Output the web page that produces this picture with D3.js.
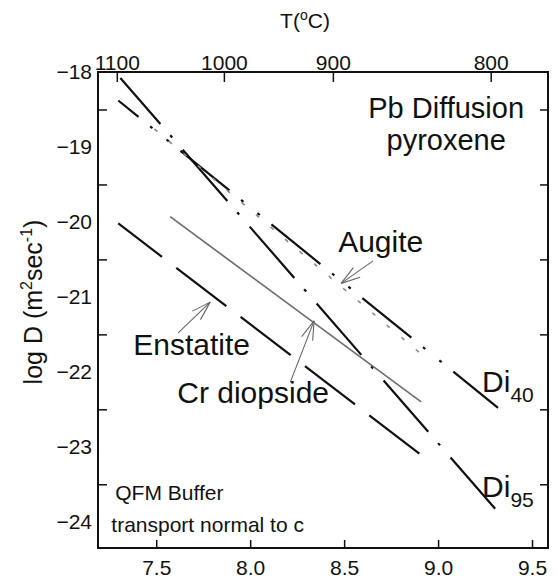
<!DOCTYPE html>
<html>
<head>
<meta charset="utf-8">
<script src="https://cdn.jsdelivr.net/npm/d3@7"></script>
<style>
  body { margin: 0; background: #fff; }
  svg { font-family: Arial, "Liberation Sans", Helvetica, sans-serif; }
  .axis path.domain { display: none; }
  .axis line { stroke: #111; stroke-width: 1.5; }
  .axis text { fill: #111; font-size: 21px; }
</style>
</head>
<body>
<div id="chart"></div>
<script>
// x = 10^4 / T(K), y = log D
const xTicks = [7.5, 8.0, 8.5, 9.0, 9.5];
const yLabels = [-18, -19, -20, -21, -22, -23, -24];
const yTicks = [-18.5, -19.5, -20.5, -21.5, -22.5, -23.5];
const tempLabels = [1100, 1000, 900, 800];
const tempTickX = [7.29, 7.86, 8.44, 9.28];

// line end points [10^4/T, log D]
const di95 = [[7.309, -18.08], [9.319, -23.87]];
const di40 = [[7.298, -18.38], [9.319, -22.48]];
const augite = [[7.49, -18.76], [8.904, -21.75]];
const crDiopside = [[7.574, -19.93], [8.910, -22.40]];
const enstatite = [[7.298, -20.02], [8.910, -23.11]];

// annotation labels and arrows (data units)
const labelNames = ['Augite', 'Enstatite', 'Cr diopside'];
const labelPos = [[8.468, -20.40], [7.378, -21.78], [7.612, -22.42]];
const arrowTails = [[8.654, -20.52], [7.617, -21.48], [8.213, -22.14]];
const arrowTips = [[8.484, -20.82], [7.787, -21.07], [8.340, -21.32]];

const margin = { top: 72, right: 10, bottom: 34, left: 98 };
const width = 558 - margin.left - margin.right;
const height = 582 - margin.top - margin.bottom;

const svg = d3.select('#chart').append('svg')
    .attr('width', 558)
    .attr('height', 582);

const chart = svg.append('g')
    .attr('transform', `translate(${margin.left},${margin.top})`);

const x = d3.scaleLinear().domain([7.19, 9.585]).range([0, width]);
const y = d3.scaleLinear().domain([-24.35, -18]).range([height, 0]);

// axes, ticks point inward
chart.append('g')
    .attr('class', 'axis x-axis')
    .attr('transform', `translate(0,${height})`)
    .call(d3.axisBottom(x).tickValues(xTicks).tickFormat(d3.format('.1f'))
        .tickSizeInner(-8).tickSizeOuter(0).tickPadding(12));

chart.append('g')
    .attr('class', 'axis top-axis')
    .call(d3.axisTop(x).tickValues(tempTickX).tickFormat((d, i) => tempLabels[i])
        .tickSizeInner(-10).tickSizeOuter(0).tickPadding(2));

chart.append('g')
    .attr('class', 'axis y-ticks')
    .call(d3.axisLeft(y).tickValues(yTicks).tickFormat('')
        .tickSizeInner(-9).tickSizeOuter(0));

chart.append('g')
    .attr('class', 'axis y-labels')
    .call(d3.axisLeft(y).tickValues(yLabels).tickFormat(d3.format('d'))
        .tickSize(0).tickPadding(6));

chart.append('g')
    .attr('class', 'axis y-right')
    .attr('transform', `translate(${width},0)`)
    .call(d3.axisRight(y).tickValues(yTicks).tickFormat('')
        .tickSizeInner(-8).tickSizeOuter(0));

chart.append('rect')
    .attr('width', width)
    .attr('height', height)
    .attr('fill', 'none')
    .attr('stroke', '#111')
    .attr('stroke-width', 2);

// axis titles
const tTitle = svg.append('text')
    .attr('x', 305).attr('y', 28)
    .attr('text-anchor', 'middle')
    .style('font-size', '21px').attr('fill', '#111');
tTitle.append('tspan').text('T(');
tTitle.append('tspan').attr('dy', -8).style('font-size', '14px').text('o');
tTitle.append('tspan').attr('dy', 8).text('C)');

const yTitle = svg.append('text')
    .attr('transform', 'translate(42,302) rotate(-90)')
    .attr('text-anchor', 'middle')
    .style('font-size', '25px').attr('fill', '#111');
yTitle.append('tspan').text('log D (m');
yTitle.append('tspan').attr('dy', -10).style('font-size', '16px').text('2');
yTitle.append('tspan').attr('dy', 10).text('sec');
yTitle.append('tspan').attr('dy', -10).style('font-size', '16px').text('-1');
yTitle.append('tspan').attr('dy', 10).text(')');

// data lines
const lineStyles = {
    di95: { stroke: '#111', width: 2.2, dash: '68,15,3,16', offset: 7 },
    di40: { stroke: '#111', width: 2.2, dash: '63,15,3,18,3,15', offset: 37 },
    augite: { stroke: '#8a8a8a', width: 1.6, dash: '4,15', offset: 0 },
    crDiopside: { stroke: '#6e6e6e', width: 1.7, dash: null, offset: 0 },
    enstatite: { stroke: '#111', width: 2.2, dash: '63,18', offset: 8 }
};
const lineData = { di95, di40, augite, crDiopside, enstatite };

const line = d3.line().x(d => x(d[0])).y(d => y(d[1]));

Object.keys(lineData).forEach(key => {
    const s = lineStyles[key];
    chart.append('path')
        .datum(lineData[key])
        .attr('class', 'line ' + key)
        .attr('d', line)
        .attr('fill', 'none')
        .attr('stroke', s.stroke)
        .attr('stroke-width', s.width)
        .attr('stroke-dasharray', s.dash)
        .attr('stroke-dashoffset', s.offset);
});

// arrows: shaft plus two barbs
arrowTips.forEach((tip, i) => {
    const tx = x(tip[0]), ty = y(tip[1]);
    const sx = x(arrowTails[i][0]), sy = y(arrowTails[i][1]);
    const ang = Math.atan2(sy - ty, sx - tx);
    const g = chart.append('g').attr('stroke', '#666').attr('stroke-width', 1.1);
    g.append('line').attr('x1', sx).attr('y1', sy).attr('x2', tx).attr('y2', ty);
    [-0.3, 0.3].forEach(da => {
        g.append('line')
            .attr('x1', tx).attr('y1', ty)
            .attr('x2', tx + 20 * Math.cos(ang + da))
            .attr('y2', ty + 20 * Math.sin(ang + da));
    });
});

// labels
chart.selectAll('.series-label')
    .data(labelNames)
    .join('text')
    .attr('class', 'series-label')
    .attr('x', (d, i) => x(labelPos[i][0]))
    .attr('y', (d, i) => y(labelPos[i][1]))
    .style('font-size', '30px')
    .attr('fill', '#111')
    .text(d => d);

const diLabels = [['40', [9.234, -22.27]], ['95', [9.234, -23.67]]];
diLabels.forEach(([sub, pos]) => {
    const t = chart.append('text')
        .attr('x', x(pos[0])).attr('y', y(pos[1]))
        .style('font-size', '30px').attr('fill', '#111');
    t.append('tspan').text('Di');
    t.append('tspan').attr('dy', 10).style('font-size', '21px').text(sub);
});

chart.append('text')
    .attr('x', x(9.043)).attr('y', y(-18.62))
    .attr('text-anchor', 'middle')
    .style('font-size', '29px').attr('fill', '#111')
    .text('Pb Diffusion');
chart.append('text')
    .attr('x', x(9.043)).attr('y', y(-19.045))
    .attr('text-anchor', 'middle')
    .style('font-size', '29px').attr('fill', '#111')
    .text('pyroxene');

chart.append('text')
    .attr('x', x(7.282)).attr('y', y(-23.71))
    .style('font-size', '21px').attr('fill', '#111')
    .text('QFM Buffer');
chart.append('text')
    .attr('x', x(7.261)).attr('y', y(-24.14))
    .style('font-size', '21px').attr('fill', '#111')
    .text('transport normal to c');
</script>
</body>
</html>
